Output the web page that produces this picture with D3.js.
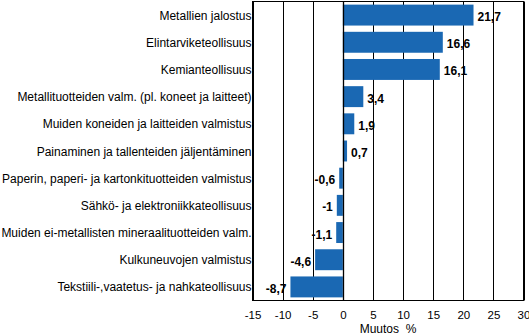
<!DOCTYPE html>
<html><head><meta charset="utf-8">
<script src="https://cdn.jsdelivr.net/npm/d3@7"></script>
<style>
html,body{margin:0;padding:0;background:#fff;}
svg{display:block;}
</style></head>
<body>
<script>
const categories = [
  "Metallien jalostus",
  "Elintarviketeollisuus",
  "Kemianteollisuus",
  "Metallituotteiden valm. (pl. koneet ja laitteet)",
  "Muiden koneiden ja laitteiden valmistus",
  "Painaminen ja tallenteiden jäljentäminen",
  "Paperin, paperi- ja kartonkituotteiden valmistus",
  "Sähkö- ja elektroniikkateollisuus",
  "Muiden ei-metallisten mineraalituotteiden valm.",
  "Kulkuneuvojen valmistus",
  "Tekstiili-,vaatetus- ja nahkateollisuus"
];
const values = [21.7, 16.6, 16.1, 3.4, 1.9, 0.7, -0.6, -1, -1.1, -4.6, -8.7];
const tickValues = [-15, -10, -5, 0, 5, 10, 15, 20, 25, 30];
const axisTitle = "Muutos  %";

(function () {
const W = 529, H = 336;
const pL = 252.5, pR = 523.5, pT = 1.5, pB = 300.5;

const svg = d3.select("body").append("svg").attr("width", W).attr("height", H);

const x = d3.scaleLinear().domain([-15, 30]).range([pL, pR]);
const y = d3.scaleBand().domain(categories).range([pT, pB]).paddingInner(0.23).paddingOuter(0.115);

const font = "'Liberation Sans', Arial, sans-serif";

svg.append("g").selectAll("line").data(tickValues).join("line")
  .attr("x1", d => Math.round(x(d)) + 0.5).attr("x2", d => Math.round(x(d)) + 0.5)
  .attr("y1", pT).attr("y2", pB)
  .attr("stroke", "#000").attr("stroke-width", 1);

svg.append("g").selectAll("rect").data(values).join("rect")
  .attr("x", d => x(Math.min(0, d)))
  .attr("width", d => Math.abs(x(d) - x(0)))
  .attr("y", (d, i) => y(categories[i]))
  .attr("height", y.bandwidth())
  .attr("fill", "#1a68b3");

svg.append("line")
  .attr("x1", Math.round(x(0)) + 0.5).attr("x2", Math.round(x(0)) + 0.5)
  .attr("y1", pT).attr("y2", pB)
  .attr("stroke", "#000").attr("stroke-width", 1.3);

svg.append("rect").attr("x", pL).attr("y", pT)
  .attr("width", pR - pL).attr("height", pB - pT)
  .attr("fill", "none").attr("stroke", "#000").attr("stroke-width", 1);

svg.append("g").selectAll("text").data(values).join("text")
  .attr("x", d => d >= 0 ? x(d) + 4 : x(d) - 4)
  .attr("y", (d, i) => y(categories[i]) + y.bandwidth() / 2 + 6)
  .attr("text-anchor", d => d >= 0 ? "start" : "end")
  .attr("font-family", "'Liberation Sans Narrow', 'Liberation Sans', Arial, sans-serif")
  .attr("font-weight", "bold")
  .attr("font-size", "12px")
  .attr("fill", "#000")
  .text(d => String(d).replace(".", ","));

svg.append("g").selectAll("text").data(categories).join("text")
  .attr("x", pL - 1)
  .attr("y", d => y(d) + y.bandwidth() / 2 + 4.5)
  .attr("text-anchor", "end")
  .attr("font-family", font)
  .attr("font-size", "12px")
  .attr("fill", "#000")
  .text(d => d);

const xAxis = d3.axisBottom(x).tickValues(tickValues).tickSize(0).tickPadding(10)
  .tickFormat(d => String(d));
const gx = svg.append("g").attr("transform", `translate(0,${pB})`).call(xAxis);
gx.select(".domain").remove();
gx.selectAll("text").attr("font-family", font).attr("font-size", "11.5px").attr("fill", "#000");

svg.append("text")
  .attr("x", (pL + pR) / 2).attr("y", 333)
  .attr("text-anchor", "middle")
  .attr("font-family", font).attr("font-size", "12px").attr("fill", "#000")
  .style("white-space", "pre")
  .text(axisTitle);
})();
</script>
</body></html>
